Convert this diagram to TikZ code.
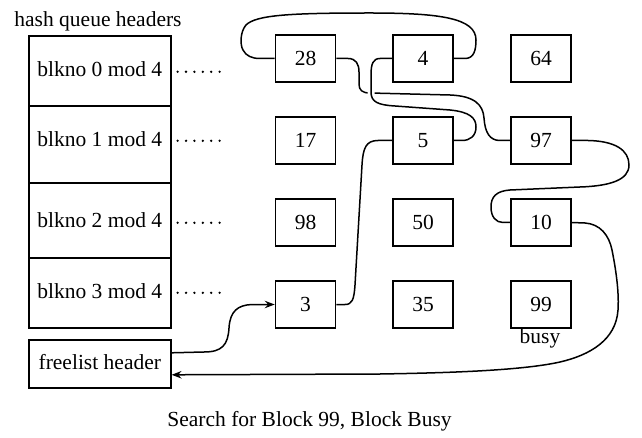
\documentclass[tikz,border=0pt]{standalone}
\usepackage{fontspec}
\setmainfont{Liberation Serif}
\usetikzlibrary{arrows.meta}
\pgfdeclarelayer{bg}
\pgfsetlayers{bg,main}
\begin{document}
\begin{tikzpicture}[x=1pt,y=-1pt,
  font=\fontsize{21.5}{25}\selectfont,
  hq/.style={draw, line width=1.6pt, minimum width=142pt, inner sep=0pt, anchor=north west},
  blk/.style={draw, line width=1.6pt, minimum width=60pt, minimum height=47pt, inner sep=0pt},
  link/.style={line width=1.5pt, line join=round},
  over/.style={preaction={draw=white, line width=7pt}},
  dotrow/.style={line width=2.6pt, line cap=round, dash pattern=on 0pt off 8.4pt},
  tip/.style={-{Stealth[length=10pt,width=7.5pt,inset=3.5pt]}},
  lbl/.style={anchor=base, inner sep=0pt}
]
\useasboundingbox (0,0) rectangle (642,438);
% hash queue headers
\node[lbl] (hqh) at (98,27) {hash queue headers};
\node[hq, minimum height=70pt, text depth=4pt] (h0) at (28,35) {blkno 0 mod 4};
\node[hq, minimum height=77pt, text depth=11pt] (h1) at (28,105) {blkno 1 mod 4};
\node[hq, minimum height=75pt] (h2) at (28,182) {blkno 2 mod 4};
\node[hq, minimum height=70pt, text depth=3pt] (h3) at (28,257) {blkno 3 mod 4};
\node[hq, minimum height=48pt, text depth=4pt] (fl) at (28,339) {freelist header};
% buffers
\node[blk] (b28) at (305.5,58.5) {28};
\node[blk] (b4)  at (423,58.5) {4};
\node[blk] (b64) at (541,58.5) {64};
\node[blk] (b17) at (305.5,140.5) {17};
\node[blk] (b5)  at (423,140.5) {5};
\node[blk] (b97) at (541,140.5) {97};
\node[blk] (b98) at (305.5,222.5) {98};
\node[blk] (b50) at (423,222.5) {50};
\node[blk] (b10) at (541,222.5) {10};
\node[blk] (b3)  at (305.5,304.5) {3};
\node[blk] (b35) at (423,304.5) {35};
\node[blk] (b99) at (541,304.5) {99};
\node[lbl] (busy) at (540,343) {busy};
\node[lbl] (cap) at (309.5,426) {Search for Block 99, Block Busy};
% dotted pointers
\draw[dotrow] ([xshift=6pt,yshift=-1pt]h0.east) -- ++(43,0);
\draw[dotrow] ([xshift=6pt,yshift=3.5pt]h1.east) -- ++(43,0);
\draw[dotrow] ([xshift=6pt,yshift=-2.5pt]h2.east) -- ++(43,0);
\draw[dotrow] ([xshift=6pt]h3.east) -- ++(43,0);
\begin{pgfonlayer}{bg}
% freelist -> 3
\draw[link,tip] ([yshift=11pt]fl.east) -- (204,352) .. controls (222,352) and (228,345) .. (229,328)
  .. controls (230,311) and (238,305) .. (252,304.5) -- (b3.west);
% 3 -> 5
\draw[link] (b3.east) -- (345,304.5) .. controls (352,304.5) and (354,300) .. (355,285)
  -- (362,165) .. controls (363,148) and (366,140.5) .. (378,140.5) -- (b5.west);
% 28 -> 97
\draw[link] (b28.east) -- (348,58.5) .. controls (356,58.5) and (359,64) .. (359,72)
  -- (359,84) .. controls (359,90) and (362,93) .. (370,93) -- (450,95)
  .. controls (475,96) and (483,105) .. (484,118) .. controls (485,133) and (490,140.5) .. (500,140.5) -- (b97.west);
% 5 -> 4
\draw[link,over] (b5.east) -- (462,140.5) .. controls (470,140.5) and (476,136) .. (476,127)
  .. controls (476,118) and (470,112) .. (450,110) -- (395,106)
  .. controls (378,105) and (371,102) .. (371,92) -- (371,75)
  .. controls (371,64) and (373,58.5) .. (380,58.5) -- (b4.west);
% 4 -> 28 over the top
\draw[link] (b4.east) -- (465,58.5) .. controls (474,58.5) and (476,50) .. (476,40)
  .. controls (476,18) and (440,13) .. (370,13) .. controls (290,13) and (256,15) .. (246,25)
  .. controls (240,32) and (240,45) .. (243,50) .. controls (246,56) and (252,58.5) .. (260,58.5) -- (b28.west);
% 97 -> 10
\draw[link] (b97.east) -- (588,140.5) .. controls (615,141) and (629,150) .. (629,165)
  .. controls (629,180) and (610,186) .. (580,187) -- (510,190)
  .. controls (496,191) and (491,197) .. (491,207) .. controls (491,217) and (496,222.5) .. (503,222.5) -- (b10.west);
% 10 -> freelist
\draw[link,tip] (b10.east) -- (585,223) .. controls (600,224) and (609,235) .. (612,250)
  .. controls (617,275) and (619,295) .. (618,310) .. controls (616,340) and (590,355) .. (560,362)
  .. controls (520,371) and (440,373) .. (380,374) -- ([yshift=-11pt]fl.east);
\end{pgfonlayer}
\end{tikzpicture}
\end{document}
